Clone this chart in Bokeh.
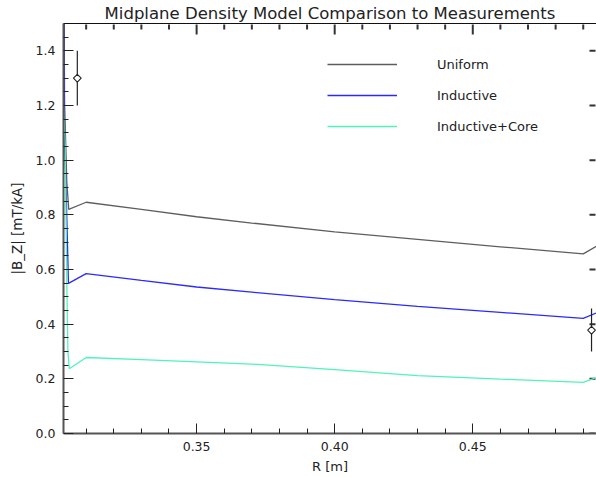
from bokeh.plotting import figure
from bokeh.models import (Range1d, LinearAxis, FixedTicker, PrintfTickFormatter,
                          Title, Legend, LegendItem)
from bokeh.embed import file_html
from bokeh.resources import INLINE

# ---------------- data ----------------
title_text = "Midplane Density Model Comparison to Measurements"
x_label = "R [m]"
y_label = "|B_Z| [mT/kA]"

series_names = ["Uniform", "Inductive", "Inductive+Core"]

# steep inner-edge part of each model curve
uniform_R_edge = [0.3018, 0.3022, 0.3030, 0.3037]
uniform_B_edge = [2.00, 1.20, 0.92, 0.820]
inductive_R_edge = [0.3018, 0.3022, 0.3026, 0.3036]
inductive_B_edge = [1.90, 1.05, 0.95, 0.549]
core_R_edge = [0.3018, 0.3024, 0.3030, 0.3034, 0.3039]
core_B_edge = [1.20, 1.05, 0.55, 0.30, 0.237]

# main part of the curves
R_main = [0.310, 0.330, 0.350, 0.370, 0.400, 0.430, 0.460, 0.490, 0.4948]
uniform_B = [0.846, 0.820, 0.793, 0.770, 0.738, 0.710, 0.683, 0.657, 0.685]
inductive_B = [0.585, 0.560, 0.536, 0.517, 0.490, 0.465, 0.443, 0.421, 0.441]
core_B = [0.278, 0.270, 0.262, 0.254, 0.234, 0.212, 0.199, 0.187, 0.205]

# measurements with error bars
meas_R = [0.3068, 0.4930]
meas_B = [1.300, 0.378]
meas_lo = [1.200, 0.300]
meas_hi = [1.400, 0.457]

x_start, x_end = 0.3018, 0.4948
y_start, y_end = 0.0, 1.5
x_major = [0.35, 0.40, 0.45]
x_minor = [0.31, 0.32, 0.33, 0.34, 0.36, 0.37, 0.38, 0.39,
           0.41, 0.42, 0.43, 0.44, 0.46, 0.47, 0.48, 0.49]
y_major = [0.0, 0.2, 0.4, 0.6, 0.8, 1.0, 1.2, 1.4]
y_minor = [0.05, 0.10, 0.15, 0.25, 0.30, 0.35, 0.45, 0.50, 0.55, 0.65, 0.70,
           0.75, 0.85, 0.90, 0.95, 1.05, 1.10, 1.15, 1.25, 1.30, 1.35, 1.45]

colors = ["#5e5e5e", "#2a2aff", "#4ff5b6"]
FONT = "DejaVu Sans"
TICK = "#222222"
EDGE_TICK = "#333333"

W, H = 596, 477
BL, BR, BT, BB = 63, 0, 23, 44
frame_w = W - BL - BR
frame_h = H - BT - BB

# ---------------- figure ----------------
p = figure(width=W, height=H, output_backend="svg", toolbar_location=None,
           x_range=Range1d(x_start, x_end), y_range=Range1d(y_start, y_end),
           x_axis_location=None, y_axis_location=None,
           min_border_left=BL, min_border_right=BR, min_border_top=BT,
           min_border_bottom=BB)
p.outline_line_color = None
p.background_fill_color = "white"
p.border_fill_color = "white"

p.title = Title(text=title_text, align="center", text_font=FONT,
                text_font_size="16.5px", text_font_style="normal",
                text_color="#222222", standoff=2)


def style_axis(ax, line_color, line_width):
    ax.axis_line_color = line_color
    ax.axis_line_width = line_width
    ax.major_tick_in = 10
    ax.major_tick_out = 0
    ax.minor_tick_in = 5
    ax.minor_tick_out = 0
    ax.major_tick_line_color = TICK
    ax.minor_tick_line_color = TICK
    ax.major_label_text_font = FONT
    ax.major_label_text_font_size = "12.5px"
    ax.major_label_text_color = TICK
    ax.axis_label_text_font = FONT
    ax.axis_label_text_font_style = "normal"
    ax.axis_label_text_color = TICK


xb = LinearAxis(ticker=FixedTicker(ticks=x_major, minor_ticks=x_minor),
                formatter=PrintfTickFormatter(format="%.2f"), axis_label=x_label)
style_axis(xb, "#555555", 2)
xb.major_label_standoff = 8
xb.axis_label_standoff = 5
xb.axis_label_text_font_size = "13px"
p.add_layout(xb, "below")

yl = LinearAxis(ticker=FixedTicker(ticks=y_major, minor_ticks=y_minor),
                formatter=PrintfTickFormatter(format="%.1f"), axis_label=y_label)
style_axis(yl, "#555555", 2)
yl.major_label_standoff = 8
yl.axis_label_standoff = 8
yl.axis_label_text_font_size = "13.5px"
p.add_layout(yl, "left")

# top frame line (no ticks, no labels)
xt = LinearAxis(ticker=FixedTicker(ticks=[], minor_ticks=[]))
xt.axis_line_color = "#111111"
xt.axis_line_width = 1
xt.major_label_standoff = 0
p.add_layout(xt, "above")

p.xgrid.visible = False
p.ygrid.visible = False

# inward tick marks along the top edge and the cropped right edge (pixel lengths -> data)
per_px_y = (y_end - y_start) / frame_h
per_px_x = (x_end - x_start) / frame_w
tick_x = x_major + x_minor
tick_len = [11] * len(x_major) + [6] * len(x_minor)
p.segment(x0=tick_x, y0=[y_end - 1 * per_px_y] * len(tick_x), x1=tick_x,
          y1=[y_end - L * per_px_y for L in tick_len],
          line_color=EDGE_TICK, line_width=2)
p.segment(x0=[x_end - 1 * per_px_x] * len(y_major), y0=y_major,
          x1=[x_end - 7 * per_px_x] * len(y_major), y1=y_major,
          line_color=EDGE_TICK, line_width=2)

# ---------------- model curves ----------------
curves = [
    (uniform_R_edge + R_main, uniform_B_edge + uniform_B),
    (inductive_R_edge + R_main, inductive_B_edge + inductive_B),
    (core_R_edge + R_main, core_B_edge + core_B),
]
renderers = []
for (xs, ys), c in zip(curves, colors):
    r = p.line(xs, ys, line_color=c, line_width=1.3)
    renderers.append(r)

# ---------------- measurements ----------------
p.segment(x0=meas_R, y0=meas_lo, x1=meas_R, y1=meas_hi,
          line_color=TICK, line_width=1.2)
p.scatter(meas_R, meas_B, marker="square", angle=0.7854, size=5.5,
          fill_color="white", line_color=TICK, line_width=1.1)

# ---------------- legend ----------------
legend = Legend(items=[LegendItem(label=n, renderers=[r])
                       for n, r in zip(series_names, renderers)],
                location=(264, 297), glyph_width=70, glyph_height=20,
                label_height=20, spacing=11, label_standoff=40,
                padding=0, margin=0, border_line_color=None,
                background_fill_alpha=0.0,
                label_text_font=FONT, label_text_font_size="13px",
                label_text_color="#222222")
p.add_layout(legend)

open("out.html", "w").write(file_html(p, INLINE))
